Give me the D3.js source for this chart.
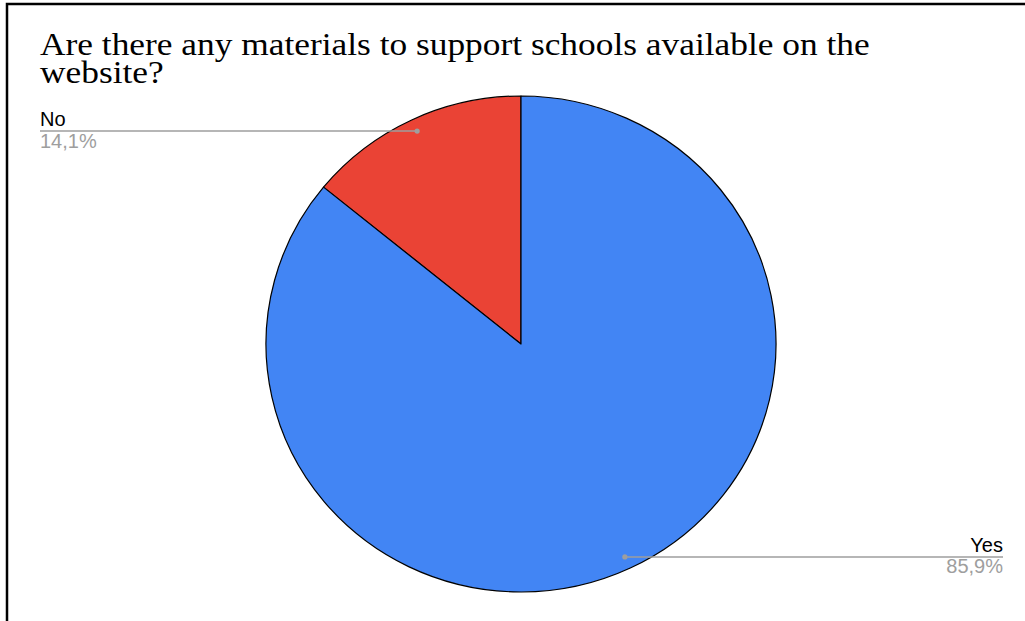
<!DOCTYPE html>
<html>
<head>
<meta charset="utf-8">
<script src="https://cdn.jsdelivr.net/npm/d3@7"></script>
<style>
  html, body { margin: 0; padding: 0; background: #fff; }
  svg { display: block; }
</style>
</head>
<body>
<svg id="chart" width="1025" height="621"></svg>
<script>
const categories = ["No", "Yes"];
const values = [14.1, 85.9];
const percentLabels = ["14,1%", "85,9%"];
const colors = ["#ea4335", "#4285f4"];
const titleLines = ["Are there any materials to support schools available on the", "website?"];

const svg = d3.select("#chart");
const W = 1025, H = 621;

// outer frame
svg.append("rect")
  .attr("x", 7).attr("y", 4)
  .attr("width", W + 20).attr("height", H + 20)
  .attr("fill", "#fff")
  .attr("stroke", "#000").attr("stroke-width", 2.5);

// title (slightly stretched horizontally like the reference)
const titleG = svg.append("g").attr("transform", "translate(40,0) scale(1.105,1)");
const title = titleG.append("text")
  .attr("x", 0).attr("y", 55)
  .attr("font-family", "'Liberation Serif', 'Times New Roman', serif")
  .attr("font-size", 32)
  .attr("fill", "#000");
titleLines.forEach((t, i) => {
  title.append("tspan").attr("x", 0).attr("dy", i === 0 ? 0 : 28).text(t);
});

const cx = 521, cy = 344, R = 248, sx = 255 / 248;
const g = svg.append("g").attr("transform", `translate(${cx},${cy}) scale(${sx},1)`);

const data = categories.map((c, i) => ({ cat: c, value: values[i], pct: percentLabels[i], color: colors[i] }));

// "No" goes counterclockwise from 12 o'clock; Yes fills the rest
const pie = d3.pie().value(d => d.value).sort(null)
  .startAngle(-2 * Math.PI * values[0] / 100)
  .endAngle(2 * Math.PI - 2 * Math.PI * values[0] / 100);

const arcs = pie(data);
const arc = d3.arc().innerRadius(0).outerRadius(R);

g.selectAll("path.slice").data(arcs).enter().append("path")
  .attr("class", "slice")
  .attr("d", arc)
  .attr("fill", d => d.data.color)
  .attr("stroke", "#000")
  .attr("stroke-width", 1.2)
  .attr("vector-effect", "non-scaling-stroke")
  .attr("stroke-linejoin", "round");

// labels
const labelArc = d3.arc().innerRadius(235.7).outerRadius(235.7);
const leftX = 40, rightX = 1003;
const sans = "'Liberation Sans', Arial, sans-serif";

arcs.forEach(a => {
  const [px, py] = labelArc.centroid(a);
  const dotX = cx + px * sx, dotY = cy + py;
  const isLeft = px < 0;
  const endX = isLeft ? leftX : rightX;
  svg.append("line")
    .attr("x1", dotX).attr("y1", dotY)
    .attr("x2", endX).attr("y2", dotY)
    .attr("stroke", "#9e9e9e").attr("stroke-width", 1.5);
  svg.append("circle")
    .attr("cx", dotX).attr("cy", dotY).attr("r", 2.6)
    .attr("fill", "#9e9e9e");
  svg.append("text")
    .attr("x", endX).attr("y", dotY - 5)
    .attr("text-anchor", isLeft ? "start" : "end")
    .attr("font-family", sans).attr("font-size", 20)
    .attr("fill", "#000")
    .text(a.data.cat);
  svg.append("text")
    .attr("x", endX).attr("y", dotY + 16.5)
    .attr("text-anchor", isLeft ? "start" : "end")
    .attr("font-family", sans).attr("font-size", 20)
    .attr("fill", "#9e9e9e")
    .text(a.data.pct);
});
</script>
</body>
</html>
